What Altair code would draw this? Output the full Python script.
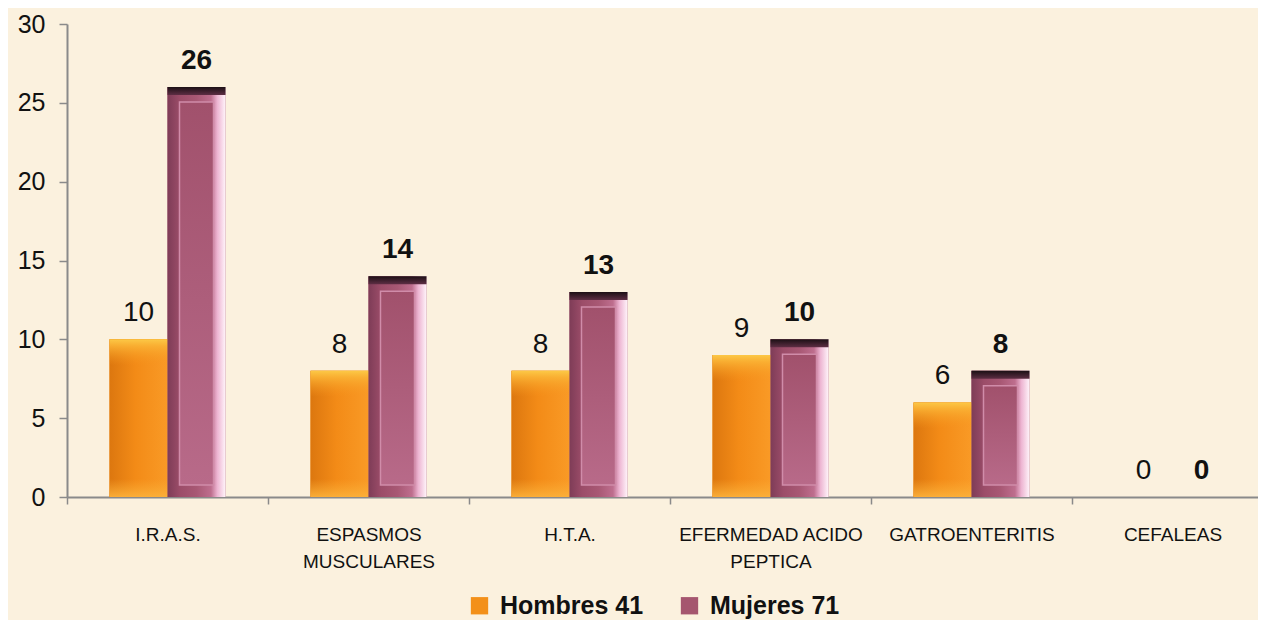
import altair as alt
import pandas as pd

title_text = "Febrero 2016"
category_lines = [["I.R.A.S."], ["ESPASMOS", "MUSCULARES"], ["H.T.A."],
                  ["EFERMEDAD ACIDO", "PEPTICA"], ["GATROENTERITIS"], ["CEFALEAS"]]
hombres = [10, 8, 8, 9, 6, 0]
mujeres = [26, 14, 13, 10, 8, 0]
series = ["Hombres 41", "Mujeres 71"]
y_ticks = [0, 5, 10, 15, 20, 25, 30]

cats = ["|".join(l) for l in category_lines]
rows = []
for c, h, m in zip(cats, hombres, mujeres):
    rows.append({"cat": c, "serie": series[0], "value": h})
    rows.append({"cat": c, "serie": series[1], "value": m})
df = pd.DataFrame(rows)

FONT = "Liberation Sans"

x_enc = alt.X("cat:N", sort=cats, title=None,
              scale=alt.Scale(paddingInner=0, paddingOuter=0),
              axis=alt.Axis(labelExpr="split(datum.label, '|')", labelAngle=0,
                            labelFont=FONT, labelFontSize=19, labelColor="#111111",
                            labelLineHeight=27, labelPadding=21, labelLimit=400,
                            labelOverlap=False, tickBand="extent", tickSize=7,
                            tickColor="#8a8a8a", tickWidth=1.5,
                            domainColor="#8a8a8a", domainWidth=2))
xo_enc = alt.XOffset("serie:N", sort=series,
                     scale=alt.Scale(domain=series, paddingInner=0, paddingOuter=0.733))
y_enc = alt.Y("value:Q", title=None,
              scale=alt.Scale(domain=[0, 30], nice=False, zero=True),
              axis=alt.Axis(values=y_ticks, labelFont=FONT, labelFontSize=25,
                            labelColor="#111111", labelPadding=14, tickSize=8,
                            tickColor="#8a8a8a", tickWidth=1.5, grid=False,
                            domainColor="#8a8a8a", domainWidth=2))

base = alt.Chart(df).encode(x=x_enc, xOffset=xo_enc)


def grad(stops, vertical=False):
    return alt.Gradient(
        gradient="linear",
        stops=[alt.GradientStop(color=c, offset=o) for o, c in stops],
        x1=0, y1=0, x2=0 if vertical else 1, y2=1 if vertical else 0)


bars = base.mark_bar().encode(
    y=y_enc,
    color=alt.Color("serie:N", sort=series,
                    scale=alt.Scale(domain=series, range=["#F39019", "#A5566F"]),
                    legend=alt.Legend(title=None, orient="none", direction="horizontal",
                                      legendX=400, legendY=569, symbolType="square",
                                      symbolSize=300, symbolStrokeWidth=0,
                                      labelFont=FONT, labelFontSize=25,
                                      labelFontWeight="bold", labelColor="#111111",
                                      labelOffset=8, columnPadding=33, labelLimit=400)))

h = base.transform_filter(alt.datum.serie == series[0]).transform_filter(alt.datum.value > 0)
m = base.transform_filter(alt.datum.serie == series[1]).transform_filter(alt.datum.value > 0)

h_body = h.mark_bar(color=grad([(0, "#DC770F"), (0.45, "#F38B17"), (1, "#F99A26")])).encode(
    y="value:Q", y2=alt.Y2(datum=0))
h_top = h.mark_bar(y2Offset=26, color=grad([(0, "rgba(252,200,70,1)"), (0.25, "rgba(250,178,52,0.9)"),
                                             (1, "rgba(246,150,30,0)")], vertical=True)).encode(
    y="value:Q", y2="value:Q")
h_bot = h.mark_bar(yOffset=-18, color=grad([(0, "rgba(250,170,50,0)"), (1, "rgba(251,176,58,0.95)")],
                                           vertical=True)).encode(
    y=alt.Y(datum=0), y2=alt.Y2(datum=0))

m_body = m.mark_bar(color=grad([(0, "#7E3C57"), (0.22, "#9C4D69"), (0.5, "#A85874"),
                                (0.75, "#BE6E8E"), (0.86, "#EDB5D2"), (1, "#FFF4FA")])).encode(
    y="value:Q", y2=alt.Y2(datum=0))
m_panel = m.mark_bar(width=34, yOffset=15, y2Offset=-12,
                     color=grad([(0, "#A1516C"), (1, "#B86A89")], vertical=True),
                     stroke="#D08CA9", strokeWidth=1.5).encode(y="value:Q", y2=alt.Y2(datum=0))
m_cap = m.mark_bar(y2Offset=8, color=grad([(0, "#1C1015"), (1, "#5E2E44")], vertical=True)).encode(
    y="value:Q", y2="value:Q")

txt_h = base.transform_filter(alt.datum.serie == series[0]).mark_text(
    dy=-18, baseline="alphabetic", font=FONT, fontSize=28, color="#111111").encode(
    y="value:Q", text="value:Q")
txt_m = base.transform_filter(alt.datum.serie == series[1]).mark_text(
    dy=-18, baseline="alphabetic", font=FONT, fontSize=28, fontWeight="bold", color="#111111").encode(
    y="value:Q", text="value:Q")

chart = alt.layer(bars, h_body, h_top, h_bot, m_body, m_panel, m_cap, txt_h, txt_m).properties(
    width=1206, height=473,
    title=alt.TitleParams(title_text, fontSize=24, font=FONT, color="#111111",
                          anchor="middle", offset=13),
    autosize=alt.AutoSizeParams(type="none"),
    padding={"left": 59, "top": 16, "right": -15, "bottom": 123},
).configure(background="#FBF1DE").configure_view(strokeWidth=0)

chart.save("out.html", embed_options={"renderer": "svg", "actions": False})
